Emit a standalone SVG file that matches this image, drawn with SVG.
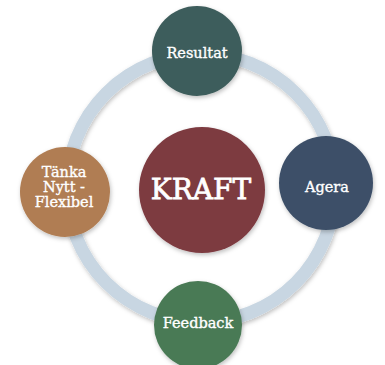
<svg xmlns="http://www.w3.org/2000/svg" width="385" height="365" viewBox="0 0 385 365">
  <defs>
    <filter id="sh" x="-20%" y="-20%" width="140%" height="140%">
      <feDropShadow dx="1" dy="2" stdDeviation="2" flood-color="#000" flood-opacity="0.25"/>
    </filter>
    <style>
      .t{font-family:"DejaVu Serif","Liberation Serif",serif;fill:#fff;stroke:#fff;stroke-width:0.35;text-anchor:middle;font-size:14.5px}
      .k{font-size:28px;stroke-width:0.8}
      .n{filter:url(#sh)}
    </style>
  </defs>
  <rect width="385" height="365" fill="#fff"/>
  <g id="connectors">
    <circle cx="201" cy="188" r="134" fill="none" stroke="#c8d6e2" stroke-width="13" filter="url(#sh)"/>
  </g>
  <g id="kraft">
    <circle class="n" cx="202" cy="190" r="63" fill="#7d3a40"/>
    <text class="t k" x="201" y="199">KRAFT</text>
  </g>
  <g id="resultat">
    <circle class="n" cx="197" cy="51" r="45" fill="#3e5d5b"/>
    <text class="t" x="197" y="58">Resultat</text>
  </g>
  <g id="agera">
    <circle class="n" cx="326" cy="183" r="47" fill="#3d5068"/>
    <text class="t" x="327" y="192">Agera</text>
  </g>
  <g id="feedback">
    <circle class="n" cx="198" cy="325" r="44" fill="#4a7a55"/>
    <text class="t" x="198" y="328">Feedback</text>
  </g>
  <g id="tanka">
    <circle class="n" cx="65" cy="192" r="45" fill="#b07d52"/>
    <text class="t" x="64" y="177">Tänka</text>
    <text class="t" x="64" y="192">Nytt -</text>
    <text class="t" x="64" y="207">Flexibel</text>
  </g>
</svg>
